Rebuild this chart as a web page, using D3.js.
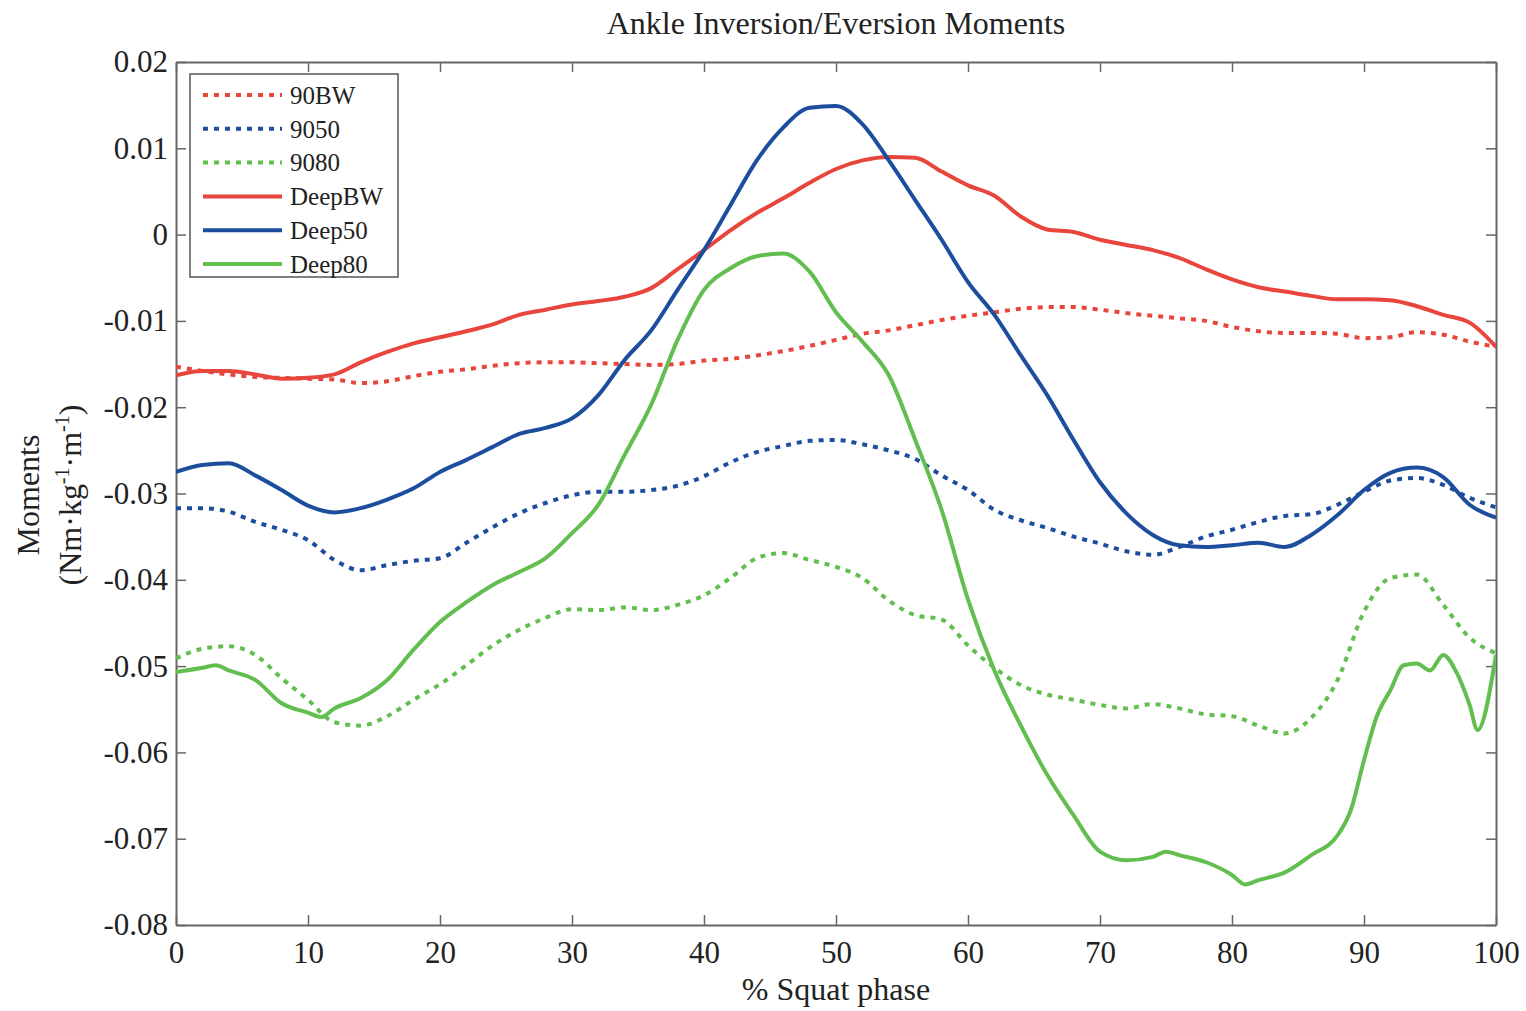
<!DOCTYPE html>
<html>
<head>
<meta charset="utf-8">
<script src="https://cdn.jsdelivr.net/npm/d3@7"></script>
<style>
  body { margin: 0; background: #fff; }
  svg { display: block; }
  text { font-family: "Liberation Serif", "DejaVu Serif", serif; fill: #222; }
</style>
</head>
<body>
<svg id="chart" width="1526" height="1011"></svg>
<script>
// % squat phase, sampled every 2 %
const phase = d3.range(0, 101, 2);

const bw90 = [-0.0153, -0.0158, -0.0162, -0.0165, -0.0166, -0.0167, -0.0168, -0.0172, -0.0170, -0.0164,
  -0.0159, -0.0156, -0.0152, -0.0149, -0.0148, -0.0148, -0.0149, -0.0150, -0.0151, -0.0150,
  -0.0146, -0.0144, -0.0140, -0.0135, -0.0129, -0.0122, -0.0115, -0.0111, -0.0105, -0.0099,
  -0.0094, -0.0090, -0.0086, -0.0084, -0.0084, -0.0087, -0.0091, -0.0094, -0.0097, -0.0100,
  -0.0107, -0.0112, -0.0114, -0.0114, -0.0115, -0.0120, -0.0119, -0.0113, -0.0116, -0.0124, -0.0130];

const s9050 = [-0.0317, -0.0317, -0.0321, -0.0333, -0.0342, -0.0354, -0.0377, -0.0389, -0.0383, -0.0378,
  -0.0375, -0.0357, -0.0339, -0.0323, -0.0311, -0.0302, -0.0298, -0.0298, -0.0296, -0.0291,
  -0.0280, -0.0264, -0.0252, -0.0245, -0.0239, -0.0238, -0.0243, -0.0250, -0.0260, -0.0279,
  -0.0296, -0.0319, -0.0331, -0.0340, -0.0350, -0.0358, -0.0367, -0.0371, -0.0362, -0.0350,
  -0.0342, -0.0333, -0.0326, -0.0324, -0.0313, -0.0298, -0.0285, -0.0282, -0.0290, -0.0305, -0.0316];

const s9080 = [-0.0491, -0.0480, -0.0477, -0.0487, -0.0514, -0.0539, -0.0565, -0.0569, -0.0558, -0.0539,
  -0.0521, -0.0499, -0.0476, -0.0458, -0.0444, -0.0434, -0.0435, -0.0432, -0.0435, -0.0429,
  -0.0418, -0.0398, -0.0375, -0.0369, -0.0377, -0.0385, -0.0398, -0.0424, -0.0441, -0.0446,
  -0.0476, -0.0502, -0.0522, -0.0533, -0.0539, -0.0545, -0.0549, -0.0544, -0.0549, -0.0556,
  -0.0558, -0.0569, -0.0578, -0.0560, -0.0516, -0.0437, -0.0398, -0.0394, -0.0429, -0.0467, -0.0485];

const deepBW = [-0.0163, -0.0158, -0.0158, -0.0162, -0.0167, -0.0166, -0.0162, -0.0148, -0.0136, -0.0126,
  -0.0119, -0.0112, -0.0104, -0.0093, -0.0087, -0.0081, -0.0077, -0.0072, -0.0062, -0.0040,
  -0.0018, 0.0005, 0.0025, 0.0042, 0.0060, 0.0076, 0.0086, 0.0090, 0.0089, 0.0073,
  0.0057, 0.0045, 0.0021, 0.0006, 0.0003, -0.0006, -0.0012, -0.0018, -0.0027, -0.0040,
  -0.0052, -0.0061, -0.0066, -0.0071, -0.0075, -0.0075, -0.0076, -0.0083, -0.0093, -0.0102, -0.0130];

const deep50 = [-0.0275, -0.0267, -0.0265, -0.0279, -0.0296, -0.0314, -0.0322, -0.0317, -0.0307, -0.0294,
  -0.0275, -0.0261, -0.0246, -0.0231, -0.0224, -0.0213, -0.0186, -0.0145, -0.0111, -0.0064,
  -0.0018, 0.0034, 0.0086, 0.0124, 0.0147, 0.0149, 0.0128, 0.0086, 0.0040, -0.0006,
  -0.0055, -0.0093, -0.0140, -0.0186, -0.0238, -0.0287, -0.0323, -0.0348, -0.0360, -0.0362,
  -0.0360, -0.0357, -0.0362, -0.0348, -0.0325, -0.0296, -0.0276, -0.0270, -0.0281, -0.0313, -0.0328];

// Deep80 has sharper features, so it keeps its own phase samples
const phaseDeep80 = [0, 2, 3, 4, 6, 8, 10, 11, 12, 14, 16, 18, 20, 22, 24, 26, 28, 30, 32, 34,
  36, 38, 40, 42, 44, 46, 48, 50, 52, 54, 56, 58, 60, 62, 64, 66, 68, 70, 72, 74,
  75, 76, 78, 80, 81, 82, 84, 86, 88, 89, 90, 91, 92, 93, 94, 95, 96, 97, 98, 98.6, 100];
const deep80 = [-0.0507, -0.0502, -0.0499, -0.0505, -0.0516, -0.0543, -0.0554, -0.0559, -0.0549, -0.0537,
  -0.0516, -0.0481, -0.0449, -0.0426, -0.0406, -0.0391, -0.0375, -0.0346, -0.0313, -0.0255,
  -0.0197, -0.0122, -0.0064, -0.0039, -0.0025, -0.0022, -0.0043, -0.0090, -0.0124, -0.0163,
  -0.0238, -0.0319, -0.0423, -0.0505, -0.0569, -0.0626, -0.0673, -0.0715, -0.0725, -0.0721,
  -0.0715, -0.0719, -0.0727, -0.0742, -0.0753, -0.0748, -0.0739, -0.0719, -0.0696, -0.0667,
  -0.0609, -0.0557, -0.0528, -0.0499, -0.0497, -0.0505, -0.0487, -0.0507, -0.0545, -0.0574, -0.0487];

const seriesNames = ['90BW', '9050', '9080', 'DeepBW', 'Deep50', 'Deep80'];
const seriesColors = ['#e8463c', '#1d4e9e', '#62bf4f', '#e8463c', '#1d4e9e', '#62bf4f'];
const seriesDotted = [true, true, true, false, false, false];

const xTicks = d3.range(0, 101, 10);
const yTicks = [0.02, 0.01, 0, -0.01, -0.02, -0.03, -0.04, -0.05, -0.06, -0.07, -0.08];

const series = [
  { name: seriesNames[0], x: phase, y: bw90 },
  { name: seriesNames[1], x: phase, y: s9050 },
  { name: seriesNames[2], x: phase, y: s9080 },
  { name: seriesNames[3], x: phase, y: deepBW },
  { name: seriesNames[4], x: phase, y: deep50 },
  { name: seriesNames[5], x: phaseDeep80, y: deep80 }
].map((s, i) => ({
  ...s,
  color: seriesColors[i],
  dotted: seriesDotted[i],
  points: s.x.map((x, j) => ({ x: x, y: s.y[j] }))
}));

const margin = { top: 62, right: 30, bottom: 86, left: 176 };
const width = 1526 - margin.left - margin.right;
const height = 1011 - margin.top - margin.bottom;

const svg = d3.select('#chart');
const chart = svg.append('g')
  .attr('transform', `translate(${margin.left},${margin.top})`);

const xScale = d3.scaleLinear().domain([0, 100]).range([0, width]);
const yScale = d3.scaleLinear().domain([-0.08, 0.02]).range([height, 0]);

// clip lines to the plot box
svg.append('defs').append('clipPath').attr('id', 'plot-clip')
  .append('rect').attr('width', width).attr('height', height);

// axes: ticks point inward on all four sides
const fmt = d => d === 0 ? '0' : d.toFixed(2);

const styleAxis = g => {
  g.select('.domain').attr('stroke', '#666').attr('stroke-width', 2);
  g.selectAll('.tick line').attr('stroke', '#666').attr('stroke-width', 1.5);
  g.selectAll('.tick text').style('font-size', '31px').attr('fill', '#222');
};

chart.append('g')
  .attr('transform', `translate(0,${height})`)
  .call(d3.axisBottom(xScale).tickValues(xTicks).tickSize(-10).tickSizeOuter(0).tickPadding(16))
  .call(styleAxis);

chart.append('g')
  .call(d3.axisTop(xScale).tickValues(xTicks).tickSize(-10).tickSizeOuter(0).tickFormat(''))
  .call(styleAxis);

chart.append('g')
  .call(d3.axisLeft(yScale).tickValues(yTicks).tickSize(-10).tickSizeOuter(0).tickPadding(8).tickFormat(fmt))
  .call(styleAxis);

chart.append('g')
  .attr('transform', `translate(${width},0)`)
  .call(d3.axisRight(yScale).tickValues(yTicks).tickSize(-10).tickSizeOuter(0).tickFormat(''))
  .call(styleAxis);

// lines
const line = d3.line()
  .x(d => xScale(d.x))
  .y(d => yScale(d.y))
  .curve(d3.curveMonotoneX);

chart.append('g').attr('clip-path', 'url(#plot-clip)')
  .selectAll('.series')
  .data(series)
  .join('path')
  .attr('class', 'series')
  .attr('fill', 'none')
  .attr('stroke', d => d.color)
  .attr('stroke-width', 4)
  .attr('stroke-linejoin', 'round')
  .attr('stroke-dasharray', d => d.dotted ? '5,6' : null)
  .attr('d', d => line(d.points));

// legend
const legend = chart.append('g').attr('transform', 'translate(14,12)');
legend.append('rect')
  .attr('width', 208).attr('height', 203)
  .attr('fill', '#fff').attr('stroke', '#555').attr('stroke-width', 1.5);

const entry = legend.selectAll('.entry')
  .data(series)
  .join('g')
  .attr('class', 'entry')
  .attr('transform', (d, i) => `translate(0,${21 + i * 33.8})`);

entry.append('line')
  .attr('x1', 13).attr('x2', 92)
  .attr('stroke', d => d.color)
  .attr('stroke-width', 4)
  .attr('stroke-dasharray', d => d.dotted ? '5,6' : null);

entry.append('text')
  .attr('x', 100).attr('dy', '0.35em')
  .style('font-size', '25px')
  .text(d => d.name);

// title and axis labels
svg.append('text')
  .attr('x', margin.left + width / 2).attr('y', 34)
  .attr('text-anchor', 'middle')
  .style('font-size', '32px')
  .text('Ankle Inversion/Eversion Moments');

svg.append('text')
  .attr('x', margin.left + width / 2).attr('y', 1000)
  .attr('text-anchor', 'middle')
  .style('font-size', '32px')
  .text('% Squat phase');

const yLabel = svg.append('text')
  .attr('transform', 'translate(0,495) rotate(-90)')
  .attr('text-anchor', 'middle')
  .style('font-size', '32px');
yLabel.append('tspan').attr('x', 0).attr('y', 39).text('Moments');
const unit = yLabel.append('tspan').attr('x', 0).attr('y', 81);
unit.append('tspan').text('(Nm\u00b7kg');
unit.append('tspan').attr('dy', -12).style('font-size', '20px').text('-1');
unit.append('tspan').attr('dy', 12).text('\u00b7m');
unit.append('tspan').attr('dy', -12).style('font-size', '20px').text('-1');
unit.append('tspan').attr('dy', 12).text(')');
</script>
</body>
</html>
